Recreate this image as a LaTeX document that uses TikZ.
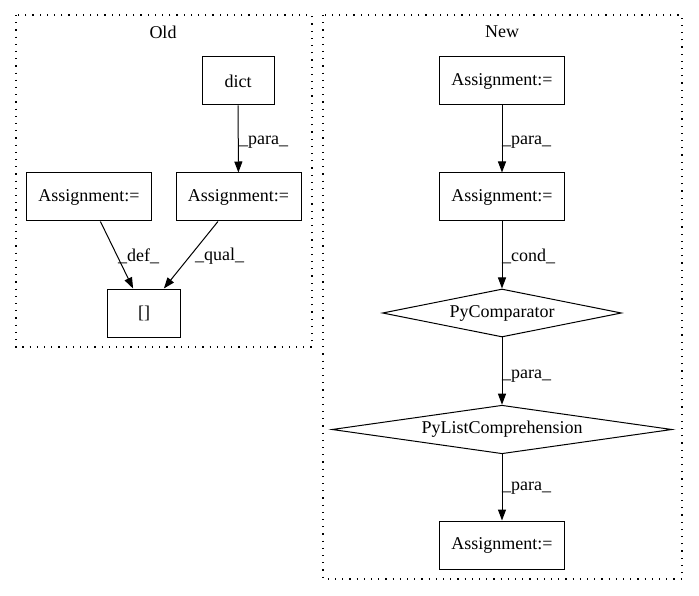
\documentclass[tikz,border=0pt]{standalone}
\usepackage{fontspec}
\setmainfont{Liberation Serif}
\usetikzlibrary{arrows.meta,shapes.geometric}
\begin{document}
\begin{tikzpicture}[x=1pt,y=-1pt,
  every node/.style={font=\fontsize{18}{20}\selectfont},
  box/.style={draw,line width=1pt,rectangle,minimum height=48pt,inner sep=0pt},
  dia/.style={draw,line width=1pt,diamond,aspect=5,inner sep=0pt,minimum height=48pt},
  cluster/.style={draw,line width=1.2pt,dash pattern=on 1.2pt off 6pt},
  edge/.style={line width=1pt,-{Triangle[length=11pt,width=8pt]}},
  lbl/.style={inner sep=0pt,anchor=west}]
\useasboundingbox (0,0) rectangle (699,596);
% clusters
\draw[cluster] (16,15) rectangle (312,347);
\node (oldlbl) at (163,32) {Old};
\draw[cluster] (323,15) rectangle (682,579);
\node (newlbl) at (502,32) {New};
% Old nodes
\node[box,minimum width=72pt] (dict) at (238,81) {dict};
\node[box,minimum width=125pt] (oa2) at (238.5,197) {Assignment:=};
\node[box,minimum width=125pt] (oa1) at (89,197) {Assignment:=};
\node[box,minimum width=73pt] (br) at (144,313) {[]};
% Old edges
\draw[edge] (dict) -- (oa2);
\node[lbl] (l1) at (239,142) {\_para\_};
\draw[edge] (oa1.-65.4) -- (br.114.6);
\node[lbl] (l2) at (118,256) {\_def\_};
\draw[edge] (oa2.-130.5) -- (br.51.6);
\node[lbl] (l3) at (195,256) {\_qual\_};
% New nodes
\node[box,minimum width=125pt] (na1) at (502,81) {Assignment:=};
\node[box,minimum width=125pt] (na2) at (502,197) {Assignment:=};
\node[dia,minimum width=239pt,minimum height=48pt] (cmp) at (502,313) {PyComparator};
\node[dia,minimum width=340pt,minimum height=47pt] (lc) at (502,429.5) {PyListComprehension};
\node[box,minimum width=125pt] (na3) at (502,545) {Assignment:=};
% New edges
\draw[edge] (na1) -- (na2);
\node[lbl] (l4) at (502,142) {\_para\_};
\draw[edge] (na2) -- (cmp);
\node[lbl] (l5) at (502,256) {\_cond\_};
\draw[edge] (cmp) -- (lc);
\node[lbl] (l6) at (502,376) {\_para\_};
\draw[edge] (lc) -- (na3);
\node[lbl] (l7) at (502,488) {\_para\_};
\end{tikzpicture}
\end{document}
